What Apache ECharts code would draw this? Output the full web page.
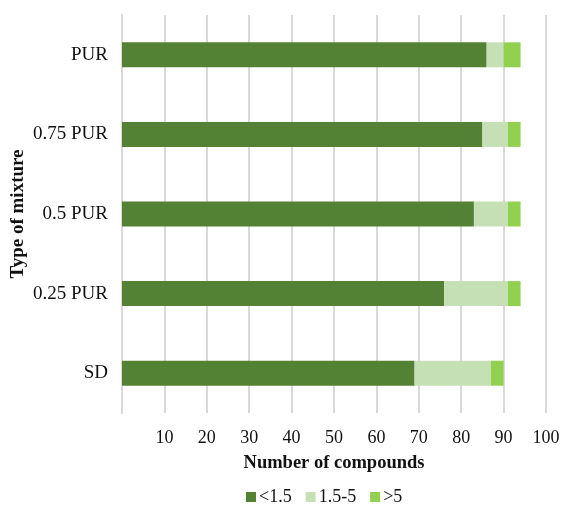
<!DOCTYPE html>
<html><head><meta charset="utf-8">
<script src="https://cdn.jsdelivr.net/npm/echarts@6/dist/echarts.min.js"></script>
<style>html,body{margin:0;padding:0;background:#fff}#c{width:563px;height:505px}</style>
</head><body><div id="c"></div>
<script>
var categories = ["SD", "0.25 PUR", "0.5 PUR", "0.75 PUR", "PUR"];
var low = [69, 76, 83, 85, 86];
var mid = [18, 15, 8, 6, 4];
var high = [3, 3, 3, 3, 4];
var seriesNames = ["<1.5", "1.5-5", ">5"];
var colors = ["#548235", "#C5E0B4", "#92D050"];
var font = "Liberation Serif";
var chart = echarts.init(document.getElementById('c'));
function s(name, data, color) {
  return {name: name, type: 'bar', stack: 'a', data: data, barWidth: 25,
    itemStyle: {color: color}, emphasis: {disabled: true}};
}
chart.setOption({
  animation: false,
  textStyle: {fontFamily: font},
  grid: {left: 122, right: 17, top: 15, bottom: 92, containLabel: false, outerBoundsMode: 'none'},
  legend: {top: 488, left: 246, padding: 0, itemWidth: 10, itemHeight: 10, itemGap: 14,
    icon: 'rect', textStyle: {fontFamily: font, fontSize: 18, color: '#111', padding: [0, 0, 0, -2]},
    data: seriesNames},
  xAxis: {type: 'value', min: 0, max: 100, interval: 10,
    name: 'Number of compounds', nameLocation: 'middle', nameGap: 41, nameMoveOverlap: false,
    nameTextStyle: {fontFamily: font, fontSize: 18.5, fontWeight: 'bold', color: '#111'},
    axisLine: {show: false}, axisTick: {show: false},
    axisLabel: {margin: 16, fontFamily: font, fontSize: 18, color: '#111',
      formatter: function(v){ return v === 0 ? '' : v; }},
    splitLine: {show: true, lineStyle: {color: '#D9D9D9', width: 2}}},
  yAxis: {type: 'category', data: categories,
    name: 'Type of mixture', nameLocation: 'middle', nameGap: 94, nameRotate: 90, nameMoveOverlap: false,
    nameTextStyle: {fontFamily: font, fontSize: 19, fontWeight: 'bold', color: '#111'},
    axisLine: {show: true, lineStyle: {color: '#D9D9D9', width: 2}},
    axisTick: {show: false},
    axisLabel: {margin: 14, fontFamily: font, fontSize: 19, color: '#111'}},
  series: [s(seriesNames[0], low, colors[0]), s(seriesNames[1], mid, colors[1]), s(seriesNames[2], high, colors[2])]
});
</script></body></html>
